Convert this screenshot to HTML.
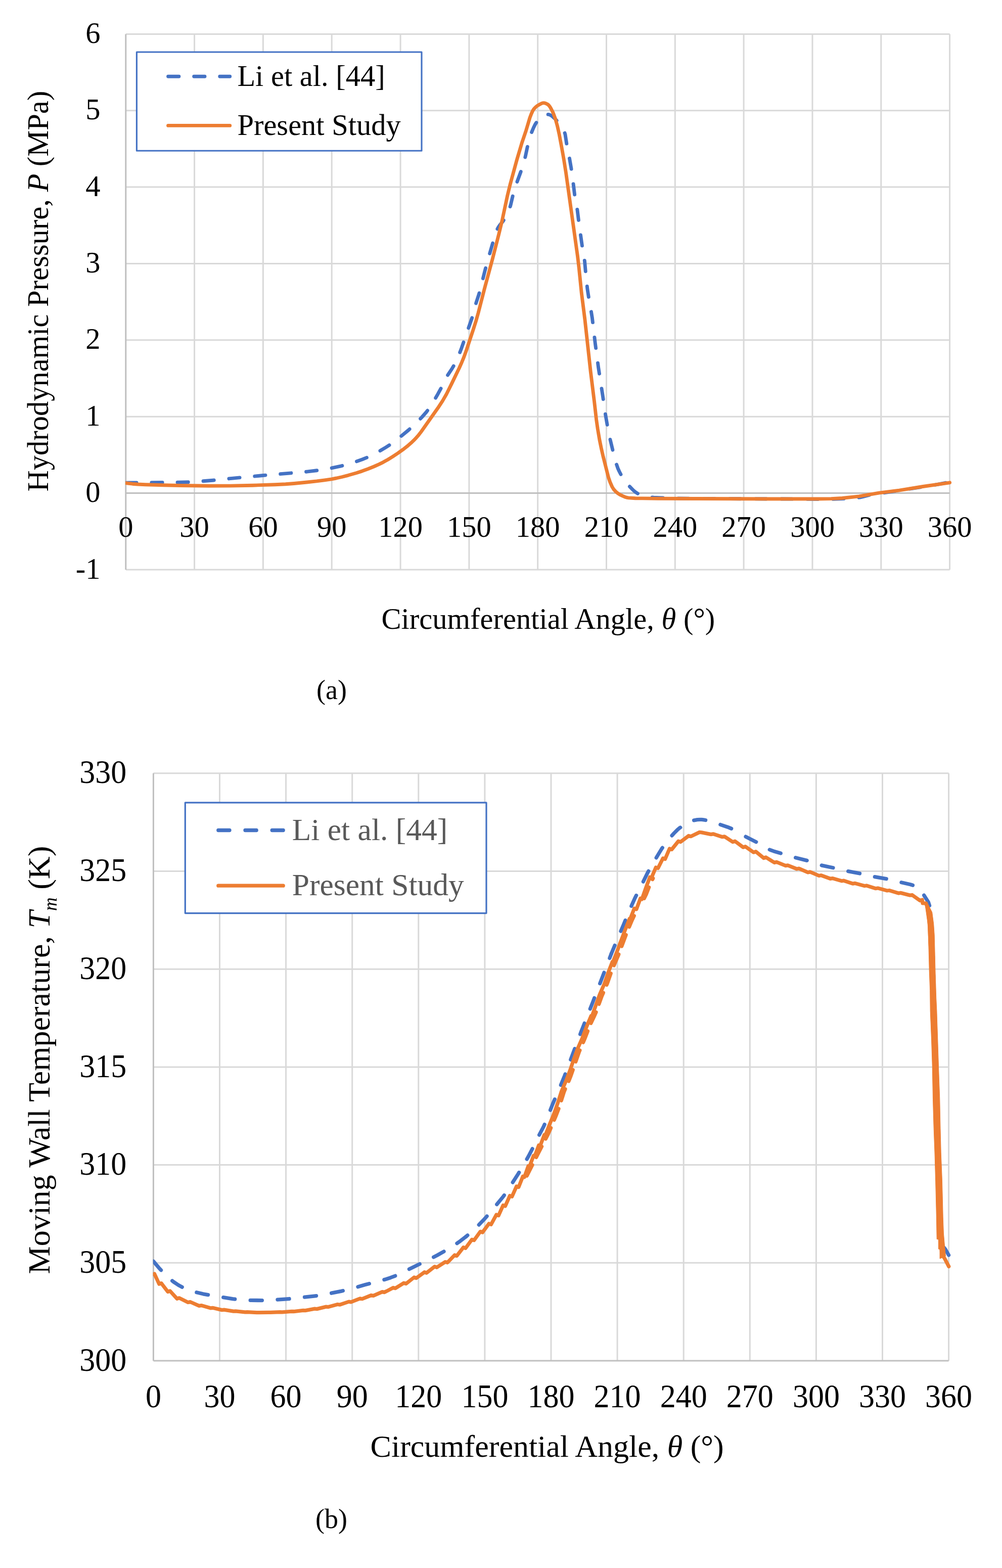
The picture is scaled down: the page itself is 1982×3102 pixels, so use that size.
<!DOCTYPE html>
<html><head><meta charset="utf-8"><title>Pressure and temperature charts</title>
<style>
html,body{margin:0;padding:0;background:#fff;}
svg{display:block;}
text{font-family:"Liberation Serif","Times New Roman",serif;}
</style></head>
<body>
<svg width="1982" height="3102" viewBox="0 0 1982 3102" fill="#000">
<rect width="1982" height="3102" fill="#fff"/>
<defs><clipPath id="ca"><rect x="248.1" y="0" width="1700" height="1300"/></clipPath><clipPath id="cb"><rect x="302.7" y="1400" width="1700" height="1400"/></clipPath></defs>
<line x1="384.6" y1="67.4" x2="384.6" y2="1126.9" stroke="#D9D9D9" stroke-width="3"/>
<line x1="520.4" y1="67.4" x2="520.4" y2="1126.9" stroke="#D9D9D9" stroke-width="3"/>
<line x1="656.2" y1="67.4" x2="656.2" y2="1126.9" stroke="#D9D9D9" stroke-width="3"/>
<line x1="792.1" y1="67.4" x2="792.1" y2="1126.9" stroke="#D9D9D9" stroke-width="3"/>
<line x1="927.9" y1="67.4" x2="927.9" y2="1126.9" stroke="#D9D9D9" stroke-width="3"/>
<line x1="1063.7" y1="67.4" x2="1063.7" y2="1126.9" stroke="#D9D9D9" stroke-width="3"/>
<line x1="1199.5" y1="67.4" x2="1199.5" y2="1126.9" stroke="#D9D9D9" stroke-width="3"/>
<line x1="1335.3" y1="67.4" x2="1335.3" y2="1126.9" stroke="#D9D9D9" stroke-width="3"/>
<line x1="1471.1" y1="67.4" x2="1471.1" y2="1126.9" stroke="#D9D9D9" stroke-width="3"/>
<line x1="1607.0" y1="67.4" x2="1607.0" y2="1126.9" stroke="#D9D9D9" stroke-width="3"/>
<line x1="1742.8" y1="67.4" x2="1742.8" y2="1126.9" stroke="#D9D9D9" stroke-width="3"/>
<line x1="1878.6" y1="67.4" x2="1878.6" y2="1126.9" stroke="#D9D9D9" stroke-width="3"/>
<line x1="248.8" y1="67.4" x2="1878.6" y2="67.4" stroke="#D9D9D9" stroke-width="3"/>
<line x1="248.8" y1="218.8" x2="1878.6" y2="218.8" stroke="#D9D9D9" stroke-width="3"/>
<line x1="248.8" y1="370.1" x2="1878.6" y2="370.1" stroke="#D9D9D9" stroke-width="3"/>
<line x1="248.8" y1="521.5" x2="1878.6" y2="521.5" stroke="#D9D9D9" stroke-width="3"/>
<line x1="248.8" y1="672.8" x2="1878.6" y2="672.8" stroke="#D9D9D9" stroke-width="3"/>
<line x1="248.8" y1="824.2" x2="1878.6" y2="824.2" stroke="#D9D9D9" stroke-width="3"/>
<line x1="248.8" y1="1126.9" x2="1878.6" y2="1126.9" stroke="#D9D9D9" stroke-width="3"/>
<line x1="248.8" y1="67.4" x2="248.8" y2="1126.9" stroke="#BFBFBF" stroke-width="3"/>
<line x1="248.8" y1="975.5" x2="1878.6" y2="975.5" stroke="#BFBFBF" stroke-width="3"/>
<line x1="434.5" y1="1529.8" x2="434.5" y2="2692.0" stroke="#D9D9D9" stroke-width="3"/>
<line x1="565.6" y1="1529.8" x2="565.6" y2="2692.0" stroke="#D9D9D9" stroke-width="3"/>
<line x1="696.7" y1="1529.8" x2="696.7" y2="2692.0" stroke="#D9D9D9" stroke-width="3"/>
<line x1="827.8" y1="1529.8" x2="827.8" y2="2692.0" stroke="#D9D9D9" stroke-width="3"/>
<line x1="958.9" y1="1529.8" x2="958.9" y2="2692.0" stroke="#D9D9D9" stroke-width="3"/>
<line x1="1090.0" y1="1529.8" x2="1090.0" y2="2692.0" stroke="#D9D9D9" stroke-width="3"/>
<line x1="1221.1" y1="1529.8" x2="1221.1" y2="2692.0" stroke="#D9D9D9" stroke-width="3"/>
<line x1="1352.2" y1="1529.8" x2="1352.2" y2="2692.0" stroke="#D9D9D9" stroke-width="3"/>
<line x1="1483.3" y1="1529.8" x2="1483.3" y2="2692.0" stroke="#D9D9D9" stroke-width="3"/>
<line x1="1614.4" y1="1529.8" x2="1614.4" y2="2692.0" stroke="#D9D9D9" stroke-width="3"/>
<line x1="1745.5" y1="1529.8" x2="1745.5" y2="2692.0" stroke="#D9D9D9" stroke-width="3"/>
<line x1="1876.6" y1="1529.8" x2="1876.6" y2="2692.0" stroke="#D9D9D9" stroke-width="3"/>
<line x1="303.4" y1="1529.8" x2="1876.6" y2="1529.8" stroke="#D9D9D9" stroke-width="3"/>
<line x1="303.4" y1="1723.5" x2="1876.6" y2="1723.5" stroke="#D9D9D9" stroke-width="3"/>
<line x1="303.4" y1="1917.2" x2="1876.6" y2="1917.2" stroke="#D9D9D9" stroke-width="3"/>
<line x1="303.4" y1="2110.9" x2="1876.6" y2="2110.9" stroke="#D9D9D9" stroke-width="3"/>
<line x1="303.4" y1="2304.6" x2="1876.6" y2="2304.6" stroke="#D9D9D9" stroke-width="3"/>
<line x1="303.4" y1="2498.3" x2="1876.6" y2="2498.3" stroke="#D9D9D9" stroke-width="3"/>
<line x1="303.4" y1="1529.8" x2="303.4" y2="2692.0" stroke="#BFBFBF" stroke-width="3"/>
<line x1="303.4" y1="2692.0" x2="1876.6" y2="2692.0" stroke="#BFBFBF" stroke-width="3"/>
<text x="198.6" y="85.0" text-anchor="end" font-size="58.5">6</text>
<text x="198.6" y="236.4" text-anchor="end" font-size="58.5">5</text>
<text x="198.6" y="387.7" text-anchor="end" font-size="58.5">4</text>
<text x="198.6" y="539.1" text-anchor="end" font-size="58.5">3</text>
<text x="198.6" y="690.4" text-anchor="end" font-size="58.5">2</text>
<text x="198.6" y="841.8" text-anchor="end" font-size="58.5">1</text>
<text x="198.6" y="993.1" text-anchor="end" font-size="58.5">0</text>
<text x="198.6" y="1144.5" text-anchor="end" font-size="58.5">-1</text>
<text x="248.8" y="1062.3" text-anchor="middle" font-size="58.5">0</text>
<text x="384.6" y="1062.3" text-anchor="middle" font-size="58.5">30</text>
<text x="520.4" y="1062.3" text-anchor="middle" font-size="58.5">60</text>
<text x="656.2" y="1062.3" text-anchor="middle" font-size="58.5">90</text>
<text x="792.1" y="1062.3" text-anchor="middle" font-size="58.5">120</text>
<text x="927.9" y="1062.3" text-anchor="middle" font-size="58.5">150</text>
<text x="1063.7" y="1062.3" text-anchor="middle" font-size="58.5">180</text>
<text x="1199.5" y="1062.3" text-anchor="middle" font-size="58.5">210</text>
<text x="1335.3" y="1062.3" text-anchor="middle" font-size="58.5">240</text>
<text x="1471.1" y="1062.3" text-anchor="middle" font-size="58.5">270</text>
<text x="1607.0" y="1062.3" text-anchor="middle" font-size="58.5">300</text>
<text x="1742.8" y="1062.3" text-anchor="middle" font-size="58.5">330</text>
<text x="1878.6" y="1062.3" text-anchor="middle" font-size="58.5">360</text>
<text transform="translate(250.3,1549.4) scale(1,1.042)" text-anchor="end" font-size="62">330</text>
<text transform="translate(250.3,1743.1) scale(1,1.042)" text-anchor="end" font-size="62">325</text>
<text transform="translate(250.3,1936.8) scale(1,1.042)" text-anchor="end" font-size="62">320</text>
<text transform="translate(250.3,2130.5) scale(1,1.042)" text-anchor="end" font-size="62">315</text>
<text transform="translate(250.3,2324.2) scale(1,1.042)" text-anchor="end" font-size="62">310</text>
<text transform="translate(250.3,2517.9) scale(1,1.042)" text-anchor="end" font-size="62">305</text>
<text transform="translate(250.3,2711.6) scale(1,1.042)" text-anchor="end" font-size="62">300</text>
<text transform="translate(303.4,2783.8) scale(1,1.042)" text-anchor="middle" font-size="62">0</text>
<text transform="translate(434.5,2783.8) scale(1,1.042)" text-anchor="middle" font-size="62">30</text>
<text transform="translate(565.6,2783.8) scale(1,1.042)" text-anchor="middle" font-size="62">60</text>
<text transform="translate(696.7,2783.8) scale(1,1.042)" text-anchor="middle" font-size="62">90</text>
<text transform="translate(827.8,2783.8) scale(1,1.042)" text-anchor="middle" font-size="62">120</text>
<text transform="translate(958.9,2783.8) scale(1,1.042)" text-anchor="middle" font-size="62">150</text>
<text transform="translate(1090.0,2783.8) scale(1,1.042)" text-anchor="middle" font-size="62">180</text>
<text transform="translate(1221.1,2783.8) scale(1,1.042)" text-anchor="middle" font-size="62">210</text>
<text transform="translate(1352.2,2783.8) scale(1,1.042)" text-anchor="middle" font-size="62">240</text>
<text transform="translate(1483.3,2783.8) scale(1,1.042)" text-anchor="middle" font-size="62">270</text>
<text transform="translate(1614.4,2783.8) scale(1,1.042)" text-anchor="middle" font-size="62">300</text>
<text transform="translate(1745.5,2783.8) scale(1,1.042)" text-anchor="middle" font-size="62">330</text>
<text transform="translate(1876.6,2783.8) scale(1,1.042)" text-anchor="middle" font-size="62">360</text>
<text x="754.6" y="1243.7" font-size="58.5">Circumferential Angle, <tspan font-style="italic">θ</tspan> (°)</text>
<text x="732.6" y="2881.7" font-size="62">Circumferential Angle, <tspan font-style="italic">θ</tspan> (°)</text>
<text transform="translate(94.6,972.6) rotate(-90)" font-size="58.5">Hydrodynamic Pressure, <tspan font-style="italic">P</tspan> (MPa)</text>
<text transform="translate(97.8,2520.5) rotate(-90)" font-size="62">Moving Wall Temperature, <tspan font-style="italic">T</tspan><tspan font-style="italic" font-size="37" dy="14">m</tspan><tspan dy="-14"> (K)</tspan></text>
<text x="626" y="1383.3" font-size="54">(a)</text>
<text x="624.1" y="3023" font-size="54">(b)</text>
<g clip-path="url(#ca)">
<path d="M248.8,955.1 L349.3,954.2 L376.0,953.6 L389.1,952.9 L420.8,950.2 L461.1,946.1 L518.2,940.7 L606.9,933.2 L629.1,930.5 L651.3,926.9 L673.9,922.1 L683.9,919.6 L694.3,916.5 L705.6,912.8 L716.9,908.7 L725.1,905.4 L733.7,901.4 L742.7,896.8 L752.7,891.3 L762.6,885.4 L770.3,880.4 L778.5,874.7 L787.1,868.1 L807.9,851.0 L821.0,838.9 L834.2,825.6 L843.2,815.4 L850.0,806.2 L856.8,795.5 L866.3,779.2 L873.6,765.7 L881.7,749.2 L885.3,742.5 L894.4,728.8 L897.1,724.3 L901.2,716.5 L905.7,706.7 L910.2,695.9 L912.9,688.7 L934.2,627.4 L941.9,598.7 L947.4,581.9 L949.6,574.3 L958.7,537.5 L962.7,522.3 L978.1,468.8 L980.9,460.1 L983.1,454.3 L985.8,449.4 L988.5,445.5 L995.3,437.2 L1000.3,428.9 L1005.3,418.7 L1009.4,408.0 L1010.7,403.1 L1014.4,387.0 L1017.5,376.0 L1023.4,358.2 L1030.2,339.7 L1036.1,321.0 L1039.3,309.2 L1042.9,292.2 L1044.7,284.9 L1048.3,271.7 L1051.5,262.0 L1055.1,253.2 L1058.7,245.8 L1062.3,240.2 L1067.3,233.8 L1070.0,231.1 L1072.8,229.4 L1079.1,227.0 L1081.4,226.5 L1083.6,226.3 L1085.4,226.5 L1087.7,227.2 L1090.0,228.4 L1092.2,230.0 L1097.2,234.4 L1107.2,244.7 L1110.8,249.5 L1113.5,254.3 L1116.2,260.4 L1118.0,265.9 L1121.2,286.9 L1126.2,311.7 L1129.8,332.4 L1133.0,354.9 L1137.0,388.3 L1142.0,415.5 L1145.2,441.6 L1151.5,486.6 L1155.1,507.4 L1156.5,516.9 L1159.2,547.6 L1161.9,571.8 L1165.1,592.4 L1169.6,617.5 L1171.4,628.9 L1177.3,678.9 L1183.7,727.2 L1192.3,783.3 L1197.7,820.7 L1202.2,846.5 L1207.2,870.5 L1214.0,898.9 L1218.5,915.8 L1222.2,926.5 L1224.9,932.5 L1228.5,939.4 L1231.7,944.9 L1235.3,950.3 L1238.9,955.2 L1243.0,960.0 L1252.9,970.1 L1257.5,973.9 L1261.5,976.5 L1265.6,978.2 L1272.9,980.5 L1280.1,982.3 L1287.3,983.6 L1293.2,984.2 L1303.6,984.7 L1338.5,985.9 L1380.6,986.4 L1579.8,987.2 L1632.3,987.6 L1649.1,987.4 L1670.3,986.6 L1690.7,985.0 L1700.7,984.0 L1706.1,982.9 L1718.3,979.6 L1725.6,978.2 L1765.4,972.3 L1838.3,961.2 L1853.2,958.6 L1878.6,953.6" fill="none" stroke="#4472C4" stroke-width="6.9" stroke-linecap="round" stroke-linejoin="round" stroke-dasharray="21.3 29.8"/>
<path d="M248.8,955.6 L261.9,957.2 L271.9,958.0 L287.7,958.7 L322.6,959.8 L356.1,960.5 L413.1,961.2 L455.7,961.1 L499.6,960.2 L544.0,958.7 L564.8,957.8 L581.6,956.5 L606.9,954.0 L626.4,951.9 L642.2,949.8 L655.8,947.8 L665.3,946.0 L676.6,943.5 L688.8,940.3 L704.7,935.7 L716.0,932.1 L727.8,927.8 L739.6,923.0 L750.0,918.4 L758.1,914.3 L767.2,909.2 L776.7,903.4 L787.1,896.5 L797.0,889.4 L805.2,883.1 L812.9,876.4 L818.3,871.3 L823.3,866.1 L827.8,860.9 L832.8,854.5 L865.9,807.6 L875.4,793.1 L883.1,779.7 L893.0,759.9 L908.4,728.0 L913.4,716.8 L917.5,706.9 L922.9,691.8 L936.0,652.4 L941.5,635.0 L946.0,619.1 L958.2,571.6 L974.1,512.6 L986.7,463.3 L993.1,436.9 L1003.9,386.3 L1009.4,363.8 L1022.0,317.5 L1032.0,283.7 L1040.6,258.1 L1047.9,233.4 L1051.0,225.2 L1053.7,219.3 L1055.1,217.0 L1056.9,214.7 L1059.6,211.9 L1062.3,209.7 L1065.1,207.9 L1070.9,204.8 L1073.2,203.9 L1075.5,203.6 L1077.7,203.9 L1080.0,204.7 L1083.6,206.6 L1085.4,208.2 L1087.2,210.4 L1089.5,214.1 L1093.1,221.0 L1094.9,225.1 L1098.6,235.3 L1102.6,249.7 L1106.3,266.3 L1111.2,292.3 L1115.3,315.5 L1119.4,341.3 L1142.5,506.8 L1145.2,529.6 L1150.2,579.0 L1157.0,632.8 L1168.3,735.6 L1175.5,793.9 L1179.6,829.9 L1182.3,848.7 L1185.9,870.0 L1189.6,888.1 L1192.7,901.6 L1203.6,944.6 L1206.8,953.8 L1210.8,963.0 L1214.0,968.2 L1218.1,972.6 L1221.7,975.6 L1225.8,978.3 L1232.1,981.4 L1237.1,983.5 L1240.3,984.4 L1243.0,984.9 L1256.6,985.7 L1301.8,986.2 L1534.5,987.0 L1618.3,987.0 L1644.1,986.6 L1665.8,985.5 L1699.3,981.9 L1738.7,975.2 L1778.1,970.2 L1825.6,962.5 L1878.6,954.8" fill="none" stroke="#ED7D31" stroke-width="6.9" stroke-linecap="round" stroke-linejoin="round"/>
</g>
<g clip-path="url(#cb)">
<path d="M1042.2,2326.1 L1064.9,2281.1 L1083.7,2244.6 L1088.5,2234.0 L1099.9,2206.9 L1106.0,2190.8 L1115.6,2160.5 L1119.1,2151.8 L1126.1,2136.1 L1129.1,2128.4 L1145.8,2080.3 L1157.1,2054.0 L1166.7,2028.8 L1175.9,2009.5 L1179.0,2002.5 L1190.3,1971.0 L1201.3,1945.5 L1210.9,1918.0 L1223.1,1889.8 L1238.8,1847.9 L1244.5,1833.8 L1250.2,1820.4 L1255.0,1810.3" fill="none" stroke="#ED7D31" stroke-width="7.3" stroke-linecap="round" stroke-dasharray="24 17"/>
<path d="M1274.2,1777.3 L1278.2,1769.2 L1285.2,1751.4 L1291.7,1737.6" fill="none" stroke="#ED7D31" stroke-width="7.3" stroke-linecap="round" stroke-dasharray="24 17"/>
<path d="M303.4,2495.2 L314.3,2508.2 L326.6,2521.2 L335.3,2529.5 L343.6,2536.1 L352.8,2542.3 L361.1,2546.8 L373.3,2551.9 L386.4,2556.2 L401.7,2559.8 L424.0,2563.9 L460.3,2569.6 L481.7,2571.7 L497.0,2572.4 L523.6,2572.6 L533.3,2572.2 L570.8,2569.6 L580.5,2568.8 L601.0,2566.2 L629.8,2563.1 L639.0,2561.5 L674.8,2554.4 L690.6,2550.6 L722.5,2541.6 L753.1,2533.6 L763.1,2530.7 L772.3,2527.7 L781.9,2524.0 L792.8,2519.0 L819.1,2505.9 L849.2,2491.4 L865.4,2483.0 L882.9,2473.1 L897.3,2464.2 L910.4,2455.2 L921.8,2446.4" fill="none" stroke="#4472C4" stroke-width="7.3" stroke-linecap="round" stroke-linejoin="round" stroke-dasharray="23.2 30.6" stroke-dashoffset="0.00"/>
<path d="M921.8,2446.4 L930.1,2439.3 L938.4,2431.7 L947.5,2422.8 L956.7,2413.3 L968.1,2400.4 L995.2,2367.5 L1003.0,2356.5 L1024.9,2322.5 L1035.8,2304.4 L1045.4,2287.4 L1053.7,2271.5 L1066.8,2244.9 L1074.7,2229.9 L1079.9,2218.4 L1093.1,2184.5 L1110.1,2144.8 L1116.7,2128.6 L1149.4,2041.4 L1172.2,1983.5 L1209.3,1886.6" fill="none" stroke="#4472C4" stroke-width="7.3" stroke-linecap="round" stroke-linejoin="round" stroke-dasharray="23.2 30.6" stroke-dashoffset="19.21"/>
<path d="M1209.3,1886.6 L1217.2,1867.5 L1233.3,1829.6 L1246.9,1796.9 L1255.6,1777.4 L1272.2,1744.6 L1280.5,1727.6 L1284.5,1720.2 L1290.6,1709.6 L1305.0,1685.5 L1308.9,1679.2 L1313.3,1672.9 L1319.4,1664.6 L1325.5,1657.0 L1333.4,1648.3 L1339.5,1642.1 L1343.9,1638.3 L1348.7,1634.9 L1356.6,1629.8 L1363.1,1626.2 L1367.5,1624.4 L1371.9,1623.0 L1379.3,1621.7 L1384.5,1621.3 L1388.0,1621.3 L1392.0,1621.8 L1399.8,1623.3 L1405.5,1624.8 L1439.2,1636.2 L1450.5,1640.8" fill="none" stroke="#4472C4" stroke-width="7.3" stroke-linecap="round" stroke-linejoin="round" stroke-dasharray="23.2 30.6" stroke-dashoffset="5.53"/>
<path d="M1450.5,1640.8 L1457.1,1644.3 L1474.1,1654.7 L1497.3,1666.5 L1516.5,1678.2 L1522.2,1680.9 L1530.5,1683.9 L1567.6,1695.2 L1599.1,1703.1 L1619.2,1710.2 L1627.1,1712.4 L1650.7,1717.3 L1677.3,1723.5 L1704.4,1728.7 L1728.5,1734.4 L1757.7,1739.4 L1783.1,1745.8 L1800.6,1749.7 L1807.1,1751.8 L1810.6,1753.5 L1815.4,1756.8 L1822.0,1762.2 L1836.5,1785.0 L1839.7,1795.0 L1842.5,1830.0 L1846.0,1900.0 L1848.5,2000.0 L1851.2,2110.0 L1853.5,2230.0 L1855.5,2330.0 L1858.0,2420.0 L1862.0,2462.0 L1869.6,2470.9 L1876.6,2483.0" fill="none" stroke="#4472C4" stroke-width="7.3" stroke-linecap="round" stroke-linejoin="round" stroke-dasharray="23.2 30.6" stroke-dashoffset="25.33"/>
<path d="M303.4,2520.8 L305.5,2520.0 L314.8,2540.2 L319.0,2538.6 L332.0,2555.5 L336.2,2553.9 L350.2,2569.2 L354.4,2567.8 L371.9,2576.5 L376.1,2575.5 L393.9,2583.3 L398.1,2582.6 L416.4,2587.8 L420.6,2587.3 L439.0,2591.6 L443.2,2591.1 L461.9,2594.2 L466.1,2593.9 L484.8,2595.9 L489.0,2595.7 L507.8,2596.7 L512.0,2596.7 L530.8,2596.4 L535.0,2596.4 L553.8,2595.7 L558.0,2595.8 L576.8,2594.3 L581.0,2594.5 L599.7,2592.3 L603.9,2592.6 L622.5,2589.1 L626.7,2589.6 L645.1,2585.1 L649.3,2585.6 L667.7,2580.5 L671.9,2581.2 L690.0,2575.1 L694.2,2575.9 L712.2,2568.8 L716.4,2569.7 L734.3,2562.5 L738.5,2563.4 L756.2,2555.6 L760.4,2556.6 L777.8,2547.5 L782.0,2548.7 L798.9,2538.1 L803.1,2539.6 L819.1,2527.0 L823.3,2528.6 L839.6,2516.7 L843.8,2518.2 L859.8,2505.7 L864.0,2507.3 L880.8,2496.4 L885.0,2497.8 L899.3,2483.0 L903.5,2484.6 L916.6,2467.7 L920.8,2469.3 L933.5,2452.1 L937.7,2453.7 L950.2,2436.4 L954.4,2438.0 L967.1,2420.8 L971.3,2422.4 L981.9,2403.1 L986.1,2404.7 L995.2,2384.4 L999.4,2386.0 L1008.5,2365.6 L1012.7,2367.2 L1021.7,2346.9 L1025.9,2348.5 L1034.3,2327.2 L1037.2,2328.8 L1045.0,2306.7 L1047.3,2308.3 L1055.4,2286.2 L1057.5,2287.8 L1065.7,2265.7 L1068.4,2267.3 L1076.6,2245.2 L1078.4,2246.8 L1086.9,2224.8 L1086.9,2224.8 L1095.7,2203.7 L1095.7,2203.7 L1103.3,2182.0 L1103.3,2182.0 L1110.3,2160.0 L1110.3,2160.0 L1119.3,2138.9 L1119.4,2138.9 L1127.6,2117.4 L1127.6,2117.4 L1134.9,2095.8 L1134.9,2095.8 L1142.8,2074.1 L1142.8,2074.1 L1152.0,2053.1 L1152.0,2053.1 L1160.1,2031.5 L1160.1,2031.5 L1169.2,2009.8 L1170.5,2011.4 L1178.4,1989.2 L1178.4,1989.2 L1186.1,1967.7 L1186.1,1967.7 L1195.3,1946.6 L1195.3,1946.6 L1202.8,1924.9 L1202.8,1924.9 L1211.3,1902.8 L1212.0,1904.4 L1220.5,1882.4 L1220.5,1882.4 L1228.5,1860.9 L1228.5,1860.9 L1236.7,1839.3 L1236.7,1839.3 L1245.3,1817.4 L1246.1,1819.0 L1254.7,1797.2 L1258.9,1798.8 L1266.8,1777.3 L1269.7,1778.9 L1277.4,1757.0 L1277.4,1757.0 L1285.5,1735.3 L1288.5,1736.9 L1297.3,1716.1 L1301.5,1717.7 L1311.4,1697.9 L1315.6,1699.5 L1324.4,1679.0 L1328.6,1680.6 L1341.9,1664.1 L1346.1,1665.7 L1362.2,1653.5 L1366.4,1654.7 L1383.7,1646.4 L1387.9,1646.8 L1406.4,1650.6 L1410.6,1649.8 L1428.8,1655.7 L1433.0,1654.9 L1449.6,1665.7 L1453.8,1664.1 L1470.1,1676.2 L1474.3,1674.7 L1490.7,1686.2 L1494.9,1684.7 L1510.8,1697.6 L1515.0,1696.0 L1531.9,1706.5 L1536.1,1705.4 L1554.0,1712.6 L1558.2,1711.8 L1576.1,1719.0 L1580.3,1718.1 L1598.1,1725.9 L1602.3,1724.9 L1620.1,1732.5 L1624.3,1731.7 L1642.3,1738.3 L1646.5,1737.6 L1664.8,1742.8 L1669.0,1742.2 L1687.2,1748.2 L1691.4,1747.4 L1709.8,1752.6 L1714.0,1752.0 L1732.2,1757.7 L1736.4,1757.0 L1754.8,1762.0 L1759.0,1761.5 L1777.2,1767.1 L1781.4,1766.4 L1799.9,1771.1 L1804.1,1770.5 L1820.0,1781.7 L1824.2,1780.1 L1825.0,1786.9 L1831.6,1786.9 L1836.0,1800.0 L1838.5,1830.0 L1841.0,1880.0 L1843.5,1950.0 L1846.5,2050.0 L1849.5,2150.0 L1852.5,2250.0 L1856.0,2350.0 L1858.5,2420.0 L1860.5,2460.0 L1863.5,2482.0 L1868.7,2490.0 L1876.8,2505.5" fill="none" stroke="#ED7D31" stroke-width="7.3" stroke-linecap="round" stroke-linejoin="round"/>
<polygon points="1829.7,1787.9 1835.7,1829.7 1837.2,1879.6 1838.2,1919.4 1839.7,1959.3 1840.2,2000.0 1842.6,2058.1 1844.3,2110.5 1845.5,2174.4 1847.2,2232.6 1849.0,2280.0 1850.7,2338.1 1852.4,2407.9 1853.2,2451.4 1856.4,2452.0 1856.4,2470.9 1859.1,2471.5 1859.1,2490.0 1870.5,2485.0 1868.7,2467.0 1866.4,2440.0 1865.2,2407.9 1863.5,2338.1 1861.2,2280.0 1860.0,2232.6 1858.8,2174.4 1856.5,2110.5 1854.8,2058.0 1852.9,2000.0 1851.7,1974.2 1850.2,1929.4 1849.2,1889.5 1848.2,1849.7 1846.7,1827.8 1843.7,1804.8 1833.7,1784.9" fill="#ED7D31" stroke="#ED7D31" stroke-width="1" stroke-linejoin="round"/>
</g>
<rect x="270.4" y="103.0" width="563.6" height="195.2" fill="#fff" stroke="#4472C4" stroke-width="3.1" stroke-linejoin="round"/>
<line x1="332.6" y1="151.3" x2="454.7" y2="151.3" stroke="#4472C4" stroke-width="6.9" stroke-linecap="round" stroke-dasharray="21.3 29.8"/>
<line x1="332.6" y1="248.4" x2="454.7" y2="248.4" stroke="#ED7D31" stroke-width="6.9" stroke-linecap="round"/>
<text x="469.4" y="169.8" font-size="58.5">Li et al. [44]</text>
<text x="469.4" y="267.1" font-size="58.5">Present Study</text>
<rect x="366.3" y="1587.8" width="595.7" height="218.8" fill="#fff" stroke="#4472C4" stroke-width="3.2" stroke-linejoin="round"/>
<line x1="431.8" y1="1642.5" x2="560.2" y2="1642.5" stroke="#4472C4" stroke-width="7.3" stroke-linecap="round" stroke-dasharray="22.2 31"/>
<line x1="431.8" y1="1752.2" x2="560.2" y2="1752.2" stroke="#ED7D31" stroke-width="7.3" stroke-linecap="round"/>
<text x="577.8" y="1662.1" font-size="61.5" fill="#595959">Li et al. [44]</text>
<text x="577.8" y="1771.4" font-size="61.5" fill="#595959">Present Study</text>
</svg>
</body></html>
